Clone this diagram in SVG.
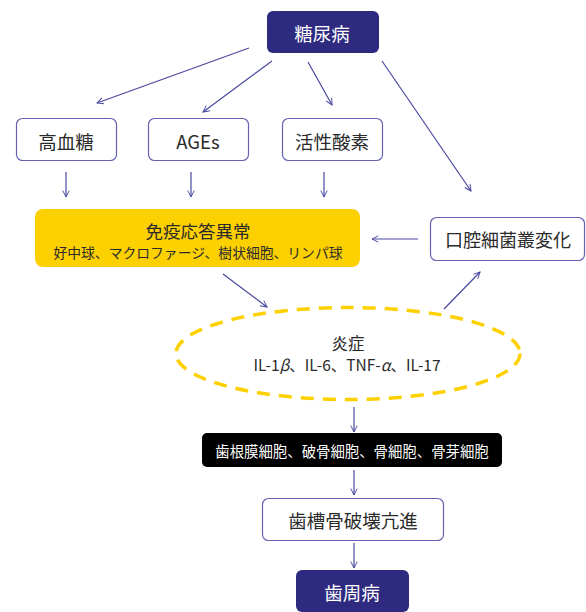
<svg xmlns="http://www.w3.org/2000/svg" width="586" height="612" viewBox="0 0 586 612">
<defs>
<marker id="ah" viewBox="0 0 10 10" refX="9" refY="5" markerWidth="8" markerHeight="8" markerUnits="userSpaceOnUse" orient="auto">
<path d="M1,1 L9,5 L1,9" fill="none" stroke="#4a48a0" stroke-width="1.2"/>
</marker>
</defs>
<style>
.navy{fill:#2e2a80;}
.wbox{fill:#fff;stroke:#6462b0;stroke-width:1.2;}
.t{font-family:"Noto Sans CJK JP","Noto Sans",sans-serif;text-anchor:middle;dominant-baseline:central;}
.w{fill:#fff;}
.k{fill:#2a2a2a;}
.c line{stroke:#4a48a0;stroke-width:1.2;marker-end:url(#ah);}
</style>
<rect width="586" height="612" fill="#fff"/>
<g id="diabetes">
<rect class="navy" x="267" y="11" width="112" height="42" rx="6"/>
<text class="t w" x="322" y="33" font-size="18.5">糖尿病</text>
</g>
<g id="hyperglycemia">
<rect class="wbox" x="16.5" y="118.5" width="100" height="42" rx="6"/>
<text class="t k" x="66" y="141" font-size="18.5">高血糖</text>
</g>
<g id="ages">
<rect class="wbox" x="148.5" y="118.5" width="100" height="42" rx="6"/>
<text class="t k" x="198" y="141" font-size="18.5">AGEs</text>
</g>
<g id="ros">
<rect class="wbox" x="282.5" y="118.5" width="100" height="42" rx="6"/>
<text class="t k" x="332" y="141" font-size="18.5">活性酸素</text>
</g>
<g id="immune">
<rect x="35" y="209" width="325" height="58" rx="8" fill="#fdd000"/>
<text class="t k" x="198" y="230" font-size="17.5">免疫応答異常</text>
<text class="t k" x="198" y="252" font-size="13.8">好中球、マクロファージ、樹状細胞、リンパ球</text>
</g>
<g id="oral">
<rect class="wbox" x="430.5" y="217.5" width="154" height="43" rx="6"/>
<text class="t k" x="508" y="239" font-size="18">口腔細菌叢変化</text>
</g>
<g id="inflammation">
<ellipse cx="348" cy="353.5" rx="172" ry="46" fill="none" stroke="#fdd000" stroke-width="3.5" stroke-dasharray="13,9"/>
<text class="t k" x="348" y="343" font-size="16.5">炎症</text>
<text class="t k" x="347" y="364" font-size="15.5">IL-1<tspan font-style="italic">β</tspan>、IL-6、TNF-<tspan font-style="italic">α</tspan>、IL-17</text>
</g>
<g id="cells">
<rect x="202" y="433" width="300" height="34" rx="5" fill="#000"/>
<text class="t w" x="352" y="450" font-size="14.4">歯根膜細胞、破骨細胞、骨細胞、骨芽細胞</text>
</g>
<g id="bone">
<rect class="wbox" x="262.5" y="498.5" width="181" height="42" rx="6"/>
<text class="t k" x="353" y="520" font-size="18.5">歯槽骨破壊亢進</text>
</g>
<g id="periodontitis">
<rect class="navy" x="296" y="570" width="113" height="42" rx="6"/>
<text class="t w" x="352" y="592" font-size="18.5">歯周病</text>
</g>
<g id="connectors" class="c">
<line x1="249" y1="48" x2="97" y2="103"/>
<line x1="272" y1="61" x2="203" y2="112"/>
<line x1="308" y1="62" x2="332" y2="105"/>
<line x1="382" y1="61" x2="471" y2="191"/>
<line x1="66" y1="172" x2="66" y2="197"/>
<line x1="191" y1="172" x2="191" y2="197"/>
<line x1="324" y1="172" x2="324" y2="197"/>
<line x1="418" y1="239" x2="372" y2="239"/>
<line x1="223" y1="274" x2="267" y2="307"/>
<line x1="444" y1="309" x2="480" y2="272"/>
<line x1="354" y1="407" x2="354" y2="432"/>
<line x1="354" y1="470" x2="354" y2="495"/>
<line x1="354" y1="543" x2="354" y2="568"/>
</g>
</svg>
